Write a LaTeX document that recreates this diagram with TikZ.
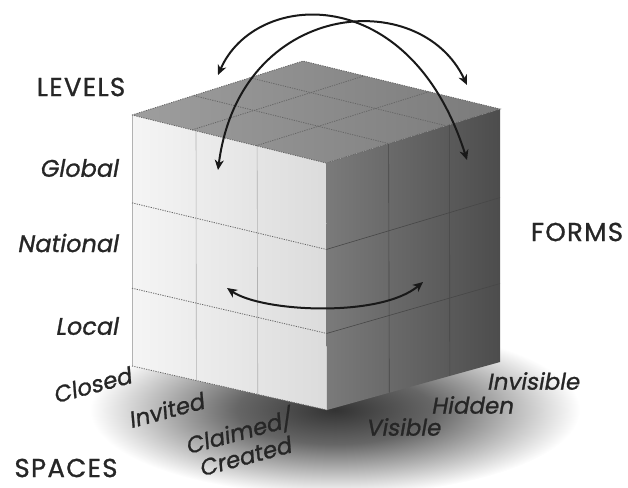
\documentclass[tikz,border=0pt]{standalone}
\usepackage{fontspec}
\setmainfont{Poppins}
\newfontfamily\capfont{Poppins}[LetterSpace=5, FakeBold=1]
\newfontfamily\slantfont{Poppins}[FakeSlant=0.18, FakeBold=1]
\usetikzlibrary{arrows.meta,positioning,calc}
\pgfdeclareradialshading{cubeshadow}{\pgfpoint{0bp}{0bp}}{color(0bp)=(black!80); color(10bp)=(black!60); color(25bp)=(white); color(50bp)=(white)}

\begin{document}
\begin{tikzpicture}[
    x=1pt, y=-1pt,
    >={Stealth[length=10pt,width=9pt,inset=3pt]},
    cap_label/.style={font=\capfont\fontsize{26}{28}\selectfont, text=black!85, inner sep=0pt},
    lvl_label/.style={font=\slantfont\fontsize{24}{27}\selectfont, text=black!85, anchor=east, inner sep=0pt},
    form_label/.style={font=\slantfont\fontsize{23}{25}\selectfont, text=black!85, inner sep=0pt, align=center},
    space_label/.style={form_label, rotate=15},
    grid_dash/.style={black!60, line width=0.8pt, dash pattern=on 1.2pt off 1.2pt},
    grid_line/.style={black!30, line width=0.6pt},
    grid_dark/.style={black!72, line width=0.6pt},
    swap_arrow/.style={<->, line width=2pt, black!90}
]
\useasboundingbox (0,0) rectangle (628,487);

% --- CUBE CORNERS ---
\coordinate (c_back) at (303,61);
\coordinate (c_left) at (132,115);
\coordinate (c_front) at (326,163);
\coordinate (c_right) at (500,109);
\coordinate (c_left_bot) at (132,366);
\coordinate (c_front_bot) at (327,410);
\coordinate (c_right_bot) at (500,362);

% --- SHADOW ---
\shade[shading=cubeshadow] (335,410) ellipse [x radius=245, y radius=85];

% --- FACES ---
% Left face (spaces)
\shade[left color=black!4, right color=black!14] (c_left) -- (c_front) -- (c_front_bot) -- (c_left_bot) -- cycle;
% Right face (forms)
\shade[left color=black!52, right color=black!70] (c_front) -- (c_right) -- (c_right_bot) -- (c_front_bot) -- cycle;
% Top face
\shade[left color=black!38, right color=black!52] (c_left) -- (c_back) -- (c_right) -- (c_front) -- cycle;

% --- GRID ---
% Left face
\draw[grid_line] (c_left) -- (c_left_bot);
\draw[grid_line] ($(c_left)!0.33!(c_front)$) -- ($(c_left_bot)!0.33!(c_front_bot)$);
\draw[grid_line] ($(c_left)!0.645!(c_front)$) -- ($(c_left_bot)!0.645!(c_front_bot)$);
\draw[grid_dash] ($(c_left)!0.35!(c_left_bot)$) -- ($(c_front)!0.35!(c_front_bot)$);
\draw[grid_dash] ($(c_left)!0.69!(c_left_bot)$) -- ($(c_front)!0.69!(c_front_bot)$);
\draw[grid_dash] (c_left_bot) -- (c_front_bot);

% Right face
\draw[grid_dark] ($(c_front)!0.36!(c_right)$) -- ($(c_front_bot)!0.36!(c_right_bot)$);
\draw[grid_dark] ($(c_front)!0.71!(c_right)$) -- ($(c_front_bot)!0.71!(c_right_bot)$);
\draw[grid_dark] ($(c_front)!0.35!(c_front_bot)$) -- ($(c_right)!0.35!(c_right_bot)$);
\draw[grid_dark] ($(c_front)!0.69!(c_front_bot)$) -- ($(c_right)!0.69!(c_right_bot)$);

% Top face
\draw[grid_dash] (c_left) -- (c_back) -- (c_right) -- (c_front) -- cycle;
\draw[grid_dash] ($(c_left)!0.36!(c_back)$) -- ($(c_front)!0.36!(c_right)$);
\draw[grid_dash] ($(c_left)!0.69!(c_back)$) -- ($(c_front)!0.69!(c_right)$);
\draw[grid_dash] ($(c_front)!0.36!(c_left)$) -- ($(c_right)!0.36!(c_back)$);
\draw[grid_dash] ($(c_front)!0.69!(c_left)$) -- ($(c_right)!0.69!(c_back)$);

% --- ROTATION ARROWS ---
\coordinate (arc_a_start) at (218,75);
\coordinate (arc_a_end) at (467,160);
\coordinate (arc_b_start) at (218,170);
\coordinate (arc_b_end) at (467,85);
\coordinate (swing_left) at (227,288);
\coordinate (swing_right) at (423,282);

\draw[swap_arrow] (arc_a_start) .. controls (255,-10) and (410,-20) .. (arc_a_end);
\draw[swap_arrow] (arc_b_start) .. controls (240,0) and (420,-15) .. (arc_b_end);
\draw[swap_arrow] (swing_left) .. controls (262,312) and (380,318) .. (swing_right);

% --- LABELS ---
\node[cap_label] (levels) at (81,87) {LEVELS};
\node[cap_label] (forms) at (577,232) {FORMS};
\node[cap_label] (spaces) at (66,468) {SPACES};

% Levels
\node[lvl_label] (lvl_global) at (118,168) {Global};
\node[lvl_label] (lvl_national) at (118,243) {National};
\node[lvl_label] (lvl_local) at (118,326) {Local};

% Spaces
\node[space_label] (sp_closed) at (92,385) {Closed};
\node[space_label] (sp_invited) at (166,410) {Invited};
\node[space_label] (sp_claimed) at (241,442) {Claimed/\\Created};

% Forms
\node[form_label] (fm_visible) at (403,427) {Visible};
\node[form_label] (fm_hidden) at (472,405) {Hidden};
\node[form_label] (fm_invisible) at (533,381) {Invisible};

\end{tikzpicture}
\end{document}
